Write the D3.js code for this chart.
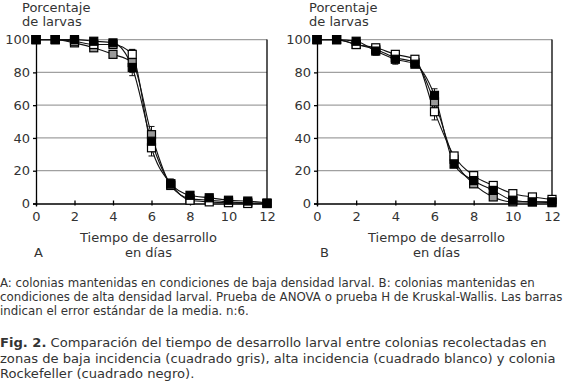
<!DOCTYPE html>
<html><head><meta charset="utf-8">
<script src="https://cdn.jsdelivr.net/npm/d3@7"></script>
<style>
html,body{margin:0;padding:0;background:#fff;}
svg{display:block;font-family:"DejaVu Sans",Verdana,sans-serif;}
</style></head>
<body>
<svg id="chart" width="571" height="383"></svg>
<script>
const days = [0,1,2,3,4,5,6,7,8,9,10,11,12];
const yTicks = [0,20,40,60,80,100];
const xTicks = [0,2,4,6,8,10,12];
const seriesNames = ["baja incidencia (gris)","alta incidencia (blanco)","Rockefeller (negro)"];
const seriesFills = ["#9a9a9a","#ffffff","#000000"];

// Panel A: baja densidad larval
const aGray  = [100,100,98,95,91,86,42,11,3,2,1,0.5,0];
const aWhite = [100,100,99,97,97,91,34,12,2,1,0.5,0,0];
const aBlack = [100,100,100,99,98,83,38,12,5,3.5,2,1.5,0.3];
const aGrayErr  = [0,0,1,1.5,2,8,5,2,1,0.5,0.5,0.3,0];
const aWhiteErr = [0,0,0.5,1,1.5,3,5,3,1,0.5,0.5,0.3,0];
const aBlackErr = [0,0,0,0.5,1,3,4,2,1,0.5,0.5,0.3,0];

// Panel B: alta densidad larval
const bGray  = [100,100,97,94,89,86,62,27,12,4,1,1,0.5];
const bWhite = [100,100,97,95,91,88,56,29,17,11,6,4,2.5];
const bBlack = [100,100,99,93,88,85,66,24,14,8,2,1,1];
const bGrayErr  = [0,0,1,1.5,2,1.5,5,2,1.5,1,0.5,0.5,0.3];
const bWhiteErr = [0,0,1,1.5,1.5,1.5,5,2,1.5,1,1,0.5,0.3];
const bBlackErr = [0,0,0.5,2.5,3,1.5,4,2,1.5,1,0.5,0.5,0.3];

const yLabel = ["Porcentaje","de larvas"];
const xLabel = ["Tiempo de desarrollo","en días"];
const captionSmall = [
 "A: colonias mantenidas en condiciones de baja densidad larval. B: colonias mantenidas en",
 "condiciones de alta densidad larval. Prueba de ANOVA o prueba H de Kruskal-Wallis. Las barras",
 "indican el error estándar de la media. n:6."
];
const captionFigBold = "Fig. 2.";
const captionFig = [
 " Comparación del tiempo de desarrollo larval entre colonias recolectadas en",
 "zonas de baja incidencia (cuadrado gris), alta incidencia (cuadrado blanco) y colonia",
 "Rockefeller (cuadrado negro)."
];

const panels = [
  {letter:"A", x0:36, x1:267, labX:22, titleShift:-3, letterX:34, vals:[aGray,aWhite,aBlack], errs:[aGrayErr,aWhiteErr,aBlackErr]},
  {letter:"B", x0:317, x1:552, labX:309, titleShift:2, letterX:320, vals:[bGray,bWhite,bBlack], errs:[bGrayErr,bWhiteErr,bBlackErr]}
];

const svg = d3.select("#chart");
const yTop = 39.6, yBot = 203.5;

panels.forEach(p => {
  const x = d3.scaleLinear().domain([0,12]).range([p.x0,p.x1]);
  const y = d3.scaleLinear().domain([0,100]).range([yBot,yTop]);
  const g = svg.append("g");

  // gridlines
  g.selectAll("line.grid").data([20,40,60,80,100]).join("line")
    .attr("x1",p.x0).attr("x2",p.x1).attr("y1",d=>y(d)).attr("y2",d=>y(d))
    .attr("stroke","#a0a0a0").attr("stroke-width",1.3);
  // right border
  g.append("line").attr("x1",p.x1).attr("x2",p.x1).attr("y1",yTop).attr("y2",yBot)
    .attr("stroke","#000").attr("stroke-width",1.3);

  // axes
  const yAxis = g.append("g").attr("transform",`translate(${p.x0},0)`)
    .call(d3.axisLeft(y).tickValues(yTicks).tickSize(3).tickPadding(3).tickFormat(d3.format("d")));
  const xAxis = g.append("g").attr("transform",`translate(0,${yBot})`)
    .call(d3.axisBottom(x).tickValues(xTicks).tickSize(3).tickPadding(5).tickFormat(d3.format("d")));
  [yAxis,xAxis].forEach(a=>{
    a.select(".domain").attr("stroke","#000").attr("stroke-width",1.3);
    a.selectAll(".tick line").attr("stroke","#000").attr("stroke-width",1.3);
    a.selectAll("text").attr("font-size",13).attr("fill","#333").attr("font-family","DejaVu Sans, Verdana, sans-serif");
  });
  xAxis.selectAll(".tick line").attr("y1",-3).attr("y2",2);

  const line = d3.line().x((d,i)=>x(days[i])).y(d=>y(d)).curve(d3.curveMonotoneX);
  // lines
  p.vals.forEach(v=>{
    g.append("path").attr("d",line(v)).attr("fill","none").attr("stroke","#111").attr("stroke-width",1.1);
  });
  // error bars
  p.vals.forEach((v,si)=>{
    const e = p.errs[si];
    days.forEach((d,i)=>{
      if(!e[i]) return;
      const cx = x(d), top = y(Math.min(100,v[i]+e[i])), bot = y(v[i]-e[i]);
      g.append("line").attr("x1",cx).attr("x2",cx).attr("y1",top).attr("y2",bot).attr("stroke","#111").attr("stroke-width",1);
      [top,bot].forEach(yy=>g.append("line").attr("x1",cx-3).attr("x2",cx+3).attr("y1",yy).attr("y2",yy).attr("stroke","#111").attr("stroke-width",1));
    });
  });
  // markers: gray, white, black drawn in order
  p.vals.forEach((v,si)=>{
    g.selectAll(null).data(v).join("rect")
      .attr("x",(d,i)=>x(days[i])-4).attr("y",d=>y(d)-4)
      .attr("width",8).attr("height",8)
      .attr("fill",seriesFills[si]).attr("stroke","#000").attr("stroke-width",1.2);
  });

  // labels
  const cx = (p.x0+p.x1)/2 + p.titleShift;
  g.append("text").attr("x",p.labX).attr("y",12).attr("font-size",13).attr("fill","#333").text(yLabel[0]);
  g.append("text").attr("x",p.labX).attr("y",25.5).attr("font-size",13).attr("fill","#333").text(yLabel[1]);
  g.append("text").attr("x",cx).attr("y",242).attr("text-anchor","middle").attr("font-size",13).attr("fill","#333").text(xLabel[0]);
  g.append("text").attr("x",cx).attr("y",256.5).attr("text-anchor","middle").attr("font-size",13).attr("fill","#333").text(xLabel[1]);
  g.append("text").attr("x",p.letterX).attr("y",256.5).attr("font-size",13).attr("fill","#333").text(p.letter);
});

// captions
const cap = svg.append("g").attr("fill","#333");
captionSmall.forEach((t,i)=>{
  cap.append("text").attr("x",0).attr("y",287+i*14).attr("font-size",11.8).text(t);
});
captionFig.forEach((t,i)=>{
  const tx = cap.append("text").attr("x",0).attr("y",347+i*15.5).attr("font-size",13.1);
  if(i===0){ tx.append("tspan").attr("font-weight","bold").text(captionFigBold); }
  tx.append("tspan").text(t);
});
</script>
</body></html>
